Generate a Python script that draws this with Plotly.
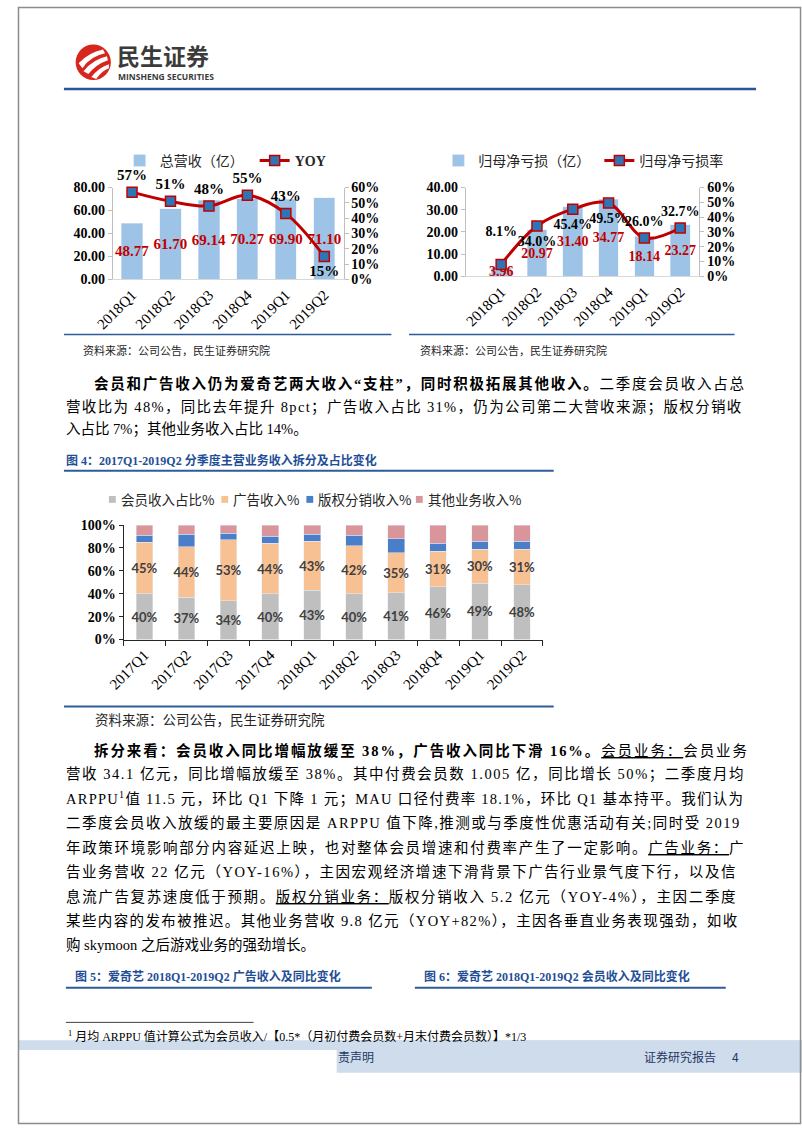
import re

import plotly.graph_objects as go

W, H = 802, 1133

# chart 1: total revenue and YOY
quarters_a = ["2018Q1", "2018Q2", "2018Q3", "2018Q4", "2019Q1", "2019Q2"]
revenue = [48.77, 61.70, 69.14, 70.27, 69.90, 71.10]
revenue_yoy = [0.57, 0.51, 0.48, 0.55, 0.43, 0.15]

# chart 2: net loss and loss rate
net_loss = [3.96, 20.97, 31.40, 34.77, 18.14, 23.27]
net_loss_rate = [0.081, 0.340, 0.454, 0.495, 0.260, 0.327]

# chart 4: revenue mix (%)
quarters_b = ["2017Q1", "2017Q2", "2017Q3", "2017Q4", "2018Q1",
              "2018Q2", "2018Q3", "2018Q4", "2019Q1", "2019Q2"]
member_share = [40, 37, 34, 40, 43, 40, 41, 46, 49, 48]
ad_share = [45, 44, 53, 44, 43, 42, 35, 31, 30, 31]
license_share = [6, 11, 6, 6, 6, 9, 12, 7, 7, 7]
other_share = [9, 8, 7, 10, 8, 9, 12, 16, 14, 14]
mix_names = ["会员收入占比%", "广告收入%", "版权分销收入%", "其他业务收入%"]

BAR_BLUE = "#9dc3e6"
LINE_RED = "#c00000"
MARK_BLUE = "#2e75b6"
MIX_COLORS = ["#bfbfbf", "#f8c194", "#4a7ec9", "#d9959a"]
RULE_BLUE = "#2e5c9a"
CAP_BLUE = "#1f4e96"

SERIF = "Liberation Serif"
CJK = "Noto Sans CJK SC"
BODY = "Liberation Serif, Noto Sans CJK SC"
BODY_SIZE = 14.5
TEXT_RIGHT = 726  # right edge of justified body text


def px(x):
    return x / W


def py(y):
    return 1 - y / H


def pt(x, y):
    return f"{px(x):.5f},{py(y):.5f}"


fig = go.Figure()

# ---- chart 1 ----
fig.add_trace(go.Bar(
    x=quarters_a, y=revenue, name="总营收（亿）",
    marker_color=BAR_BLUE, width=0.55,
    text=[f"{v:.2f}" for v in revenue], textposition="inside",
    insidetextanchor="middle", textangle=0, constraintext="none", cliponaxis=False,
    textfont=dict(family=SERIF, size=15, color=LINE_RED, weight="bold"),
    xaxis="x", yaxis="y", legend="legend", hoverinfo="x+y",
))
fig.add_trace(go.Scatter(
    x=quarters_a, y=revenue_yoy,
    name="<span style=\"font-family:'Liberation Serif';font-weight:bold\">YOY</span>",
    mode="lines+markers",
    line=dict(color=LINE_RED, width=3, shape="spline"),
    marker=dict(symbol="square", size=10, color=MARK_BLUE, line=dict(color=LINE_RED, width=1.5)),
    xaxis="x", yaxis="y2", legend="legend", cliponaxis=False,
))
fig.add_trace(go.Scatter(
    x=quarters_a, y=revenue_yoy, mode="markers+text",
    marker=dict(size=12, color="rgba(0,0,0,0)", line=dict(width=0)),
    text=[f"{v:.0%}" for v in revenue_yoy],
    textposition=["top center"] * 5 + ["bottom center"],
    textfont=dict(family=SERIF, size=15, color="#000000", weight="bold"),
    xaxis="x", yaxis="y2", showlegend=False, cliponaxis=False, hoverinfo="skip",
))

# ---- chart 2 ----
fig.add_trace(go.Bar(
    x=quarters_a, y=net_loss, name="归母净亏损（亿）",
    marker_color=BAR_BLUE, width=0.55,
    text=[f"{v:.2f}" for v in net_loss], textposition="inside",
    insidetextanchor="middle", textangle=0, constraintext="none", cliponaxis=False,
    textfont=dict(family=SERIF, size=14, color=LINE_RED, weight="bold"),
    xaxis="x2", yaxis="y3", legend="legend2", hoverinfo="x+y",
))
fig.add_trace(go.Scatter(
    x=quarters_a, y=net_loss_rate, name="归母净亏损率",
    mode="lines+markers",
    line=dict(color=LINE_RED, width=3, shape="spline"),
    marker=dict(symbol="square", size=10, color=MARK_BLUE, line=dict(color=LINE_RED, width=1.5)),
    xaxis="x2", yaxis="y4", legend="legend2", cliponaxis=False,
))
fig.add_trace(go.Scatter(
    x=quarters_a, y=net_loss_rate, mode="markers+text",
    marker=dict(size=[38, 14, 14, 14, 12, 12], color="rgba(0,0,0,0)", line=dict(width=0)),
    text=[f"{v:.1%}" for v in net_loss_rate],
    textposition=["top center", "bottom center", "bottom center", "bottom center",
                  "top center", "top center"],
    textfont=dict(family=SERIF, size=14, color="#000000", weight="bold"),
    xaxis="x2", yaxis="y4", showlegend=False, cliponaxis=False, hoverinfo="skip",
))

# ---- chart 4 ----
mix_series = [member_share, ad_share, license_share, other_share]
for i, (name, vals) in enumerate(zip(mix_names, mix_series)):
    labelled = i < 2
    fig.add_trace(go.Bar(
        x=quarters_b, y=vals, name=name, marker_color=MIX_COLORS[i], width=0.4,
        text=[f"{v}%" for v in vals] if labelled else None,
        textposition="inside" if labelled else "none",
        insidetextanchor="middle", textangle=0, constraintext="none",
        textfont=dict(family="Lato", size=13, color="#404040", weight="bold"),
        xaxis="x3", yaxis="y5", showlegend=False, hoverinfo="x+y",
    ))

tick_serif = dict(family=SERIF, size=14, color="#000000", weight="bold")
axis_grey = dict(showgrid=False, zeroline=False, showline=True, linecolor="#bfbfbf",
                 linewidth=1, ticks="outside", ticklen=4, tickcolor="#bfbfbf",
                 tickfont=tick_serif, fixedrange=True)
cat_axis = dict(type="category", tickangle=-45, showgrid=False, zeroline=False,
                tickfont=dict(family=SERIF, size=15, color="#000000"), fixedrange=True)
legend_style = dict(y=py(156), xanchor="left", yanchor="middle", orientation="h",
                    traceorder="normal", entrywidthmode="pixels",
                    font=dict(family=CJK, size=14, color="#262626"),
                    bgcolor="rgba(0,0,0,0)", borderwidth=0)

fig.update_layout(
    width=W, height=H, autosize=False,
    margin=dict(l=0, r=0, t=0, b=0),
    paper_bgcolor="white", plot_bgcolor="rgba(0,0,0,0)",
    font=dict(family=BODY, color="#000000"),
    barmode="stack",
    hovermode="closest",
    xaxis=dict(cat_axis, domain=[px(97), px(333)], anchor="y",
               showline=True, linecolor="#d9d9d9", ticks=""),
    yaxis=dict(axis_grey, domain=[py(276), py(183)], anchor="x",
               range=[0, 80], dtick=20, tickformat=".2f"),
    yaxis2=dict(axis_grey, overlaying="y", side="right", anchor="x",
                range=[0, 0.6], dtick=0.1, tickformat=".0%"),
    xaxis2=dict(cat_axis, domain=[px(458), px(697)], anchor="y3",
                showline=True, linecolor="#d9d9d9", ticks=""),
    yaxis3=dict(axis_grey, domain=[py(273), py(183)], anchor="x2",
                range=[0, 40], dtick=10, tickformat=".2f"),
    yaxis4=dict(axis_grey, overlaying="y3", side="right", anchor="x2",
                range=[0, 0.6], dtick=0.1, tickformat=".0%"),
    xaxis3=dict(cat_axis, domain=[px(108), px(537)], anchor="y5",
                showline=True, linecolor="#262626", ticks="outside",
                tickson="boundaries", ticklen=5, tickcolor="#262626"),
    yaxis5=dict(showgrid=False, zeroline=False, showline=True, linecolor="#262626",
                ticks="outside", ticklen=4, tickcolor="#262626", tickfont=tick_serif,
                domain=[py(641), py(525)], anchor="x3", range=[0, 100], dtick=20,
                ticksuffix="%", fixedrange=True),
    legend=dict(legend_style, x=px(104), entrywidth=90),
    legend2=dict(legend_style, x=px(430), entrywidth=116),
)

shapes = []
annotations = []

# rough glyph widths (em) used to spread full lines to the text block width
NARROW = {" ": 0.25, "%": 0.833, ".": 0.25, ",": 0.25, ";": 0.278, "-": 0.333,
          "+": 0.564, "/": 0.278, "*": 0.5, "“": 0.44, "”": 0.44}


def text_em(s):
    s = re.sub(r"<sup>(.*?)</sup>", lambda m: "\x01" * len(m.group(1)), s)
    s = re.sub(r"<[^>]+>", "", s)
    em = 0.0
    for ch in s:
        if ch == "\x01":
            em += 0.35
        elif ord(ch) >= 0x2E80:
            em += 1.0
        elif ch.isdigit():
            em += 0.5
        elif ch.isupper():
            em += 0.70
        elif ch.islower():
            em += 0.46
        else:
            em += NARROW.get(ch, 0.3)
    return em, len(s)


def hline(x0, x1, y, color=RULE_BLUE, width=1.5):
    shapes.append(dict(type="line", xref="paper", yref="paper",
                       x0=px(x0), x1=px(x1), y0=py(y), y1=py(y),
                       line=dict(color=color, width=width)))


def box(x0, x1, y0, y1, color):
    shapes.append(dict(type="rect", xref="paper", yref="paper",
                       x0=px(x0), x1=px(x1), y0=py(y1), y1=py(y0),
                       fillcolor=color, line=dict(width=0), layer="below"))


def note(x, y, text, size=BODY_SIZE, color="#000000", family=BODY, weight="normal",
         justify=False):
    if justify:
        em, n = text_em(text)
        gap = max((TEXT_RIGHT - x - em * size) / n, 0)
        text = f'<span style="letter-spacing:{gap:.2f}px">{text}</span>'
    annotations.append(dict(xref="paper", yref="paper", x=px(x), y=py(y), text=text,
                            showarrow=False, xanchor="left", yanchor="middle",
                            align="left",
                            font=dict(size=size, color=color, family=family, weight=weight)))


# page frame
shapes.append(dict(type="rect", xref="paper", yref="paper",
                   x0=px(0.5), x1=px(800.5), y0=py(1131.5), y1=py(0.5),
                   line=dict(color="#8c8c8c", width=1.5)))

# logo
shapes.append(dict(type="circle", xref="paper", yref="paper",
                   x0=px(59), x1=px(95), y0=py(74), y1=py(38),
                   fillcolor="#d7261e", line=dict(width=0)))
stripes = [
    [(62, 57), (72, 46), (87, 43), (89, 47), (74, 50), (66, 62)],
    [(67, 65), (77, 53), (91, 50), (92, 54), (80, 58), (72, 68)],
    [(75, 71), (83, 61), (93, 58), (93, 62), (85, 65), (80, 73)],
]
for s in stripes:
    shapes.append(dict(type="path", xref="paper", yref="paper",
                       path=(f"M {pt(*s[0])} Q {pt(*s[1])} {pt(*s[2])} L {pt(*s[3])} "
                             f"Q {pt(*s[4])} {pt(*s[5])} Z"),
                       fillcolor="white", line=dict(width=0)))
note(99, 49, "民生证券", size=23, color="#3b3b3b", family=CJK, weight="bold")
note(100, 70.5, "MINSHENG SECURITIES", size=8.5, color="#3b3b3b", family="Open Sans", weight="bold")
hline(47, 755, 83, color="#2a5597", width=2.5)

# chart 1 / 2 frames and sources
hline(47, 382, 332)
hline(400, 733, 332)
note(64, 348, "资料来源：公司公告，民生证券研究院", size=11, color="#262626")
note(409, 348, "资料来源：公司公告，民生证券研究院", size=11, color="#262626")

# paragraph 1
note(76, 382, "<b>会员和广告收入仍为爱奇艺两大收入“支柱”，同时积极拓展其他收入。</b>二季度会员收入占总",
     justify=True)
note(47, 405, "营收比为 48%，同比去年提升 8pct；广告收入占比 31%，仍为公司第二大营收来源；版权分销收",
     justify=True)
note(47, 428, "入占比 7%；其他业务收入占比 14%。")

# figure 4 caption, legend, frame
note(47, 460, "图 4：2017Q1-2019Q2 分季度主营业务收入拆分及占比变化", size=12,
     color=CAP_BLUE, weight="bold")
hline(47, 548, 470, width=2)
legend_x = [93, 208, 295, 407]
for lx, name, color in zip(legend_x, mix_names, MIX_COLORS):
    shapes.append(dict(type="rect", xref="paper", yref="paper",
                       x0=px(lx), x1=px(lx + 7), y0=py(502.5), y1=py(495.5),
                       fillcolor=color, line=dict(width=0)))
    note(lx + 10, 499, name, size=13.5, color="#262626", family=CJK)
hline(47, 548, 709, width=2)
note(77, 723, "资料来源：公司公告，民生证券研究院", size=13.5, color="#262626")

# paragraph 2
para2 = [
    (76, "<b>拆分来看：会员收入同比增幅放缓至 38%，广告收入同比下滑 16%。</b><u>会员业务：</u>会员业务"),
    (47, "营收 34.1 亿元，同比增幅放缓至 38%。其中付费会员数 1.005 亿，同比增长 50%；二季度月均"),
    (47, "ARPPU<sup>1</sup>值 11.5 元，环比 Q1 下降 1 元；MAU 口径付费率 18.1%，环比 Q1 基本持平。我们认为"),
    (47, "二季度会员收入放缓的最主要原因是 ARPPU 值下降,推测或与季度性优惠活动有关;同时受 2019"),
    (47, "年政策环境影响部分内容延迟上映，也对整体会员增速和付费率产生了一定影响。<u>广告业务：</u>广"),
    (47, "告业务营收 22 亿元（YOY-16%），主因宏观经济增速下滑背景下广告行业景气度下行，以及信"),
    (47, "息流广告复苏速度低于预期。<u>版权分销业务：</u>版权分销收入 5.2 亿元（YOY-4%），主因二季度"),
    (47, "某些内容的发布被推迟。其他业务营收 9.8 亿元（YOY+82%），主因各垂直业务表现强劲，如收"),
    (47, "购 skymoon 之后游戏业务的强劲增长。"),
]
for i, (x, line) in enumerate(para2):
    note(x, 753 + i * 24.75, line, justify=i < len(para2) - 1)

# figure 5 / 6 captions
note(56, 983, "图 5：爱奇艺 2018Q1-2019Q2 广告收入及同比变化", size=12, color=CAP_BLUE, weight="bold")
hline(49, 362, 994, width=2)
note(413, 983, "图 6：爱奇艺 2018Q1-2019Q2 会员收入及同比变化", size=12, color=CAP_BLUE, weight="bold")
hline(406, 724, 994, width=2)

# footnote
hline(49, 241, 1029, color="#404040", width=1)
note(49, 1043, "<sup>1</sup> 月均 ARPPU 值计算公式为会员收入/【0.5*（月初付费会员数+月末付费会员数）】*1/3",
     size=12, color="#000000")

# footer band
box(0, 802, 1047, 1057, "#cfdcec")
box(326, 802, 1047, 1080, "#cfdcec")
note(325, 1064, "责声明", size=12, color="#1f3864", family=CJK)
note(638, 1064, "证券研究报告", size=12, color="#1f3864", family=CJK)
note(728, 1064, "4", size=12, color="#1f3864", family=CJK)

fig.update_layout(shapes=shapes, annotations=annotations)

fig.write_html("out.html", config={"displayModeBar": False},
               post_script="document.body.style.margin='0px';")
